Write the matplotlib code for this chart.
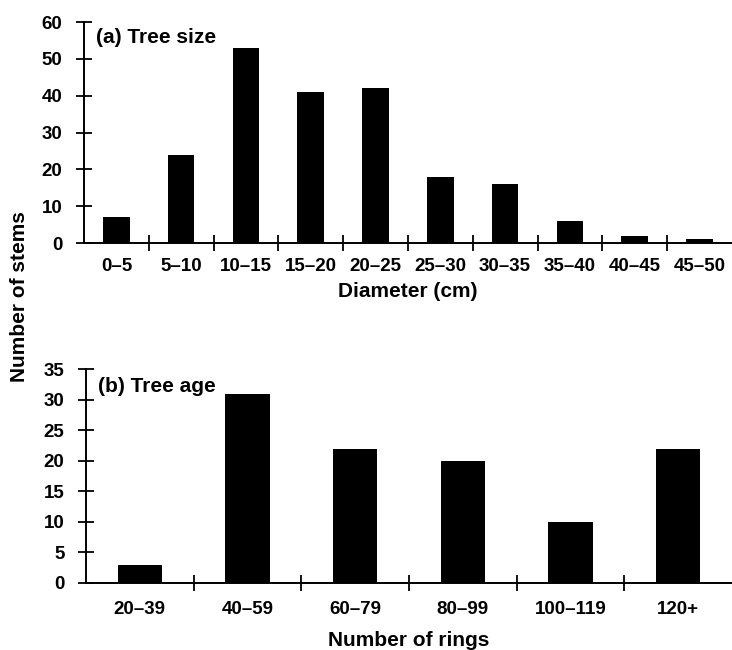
import matplotlib
matplotlib.use('Agg')
import matplotlib.pyplot as plt
import numpy as np

plt.rcParams['font.family'] = ['Liberation Sans', 'DejaVu Sans']
plt.rcParams['font.weight'] = 'bold'

# (a) tamaño de árbol
size_classes = ['0\u20135', '5\u201310', '10\u201315', '15\u201320', '20\u201325',
                '25\u201330', '30\u201335', '35\u201340', '40\u201345', '45\u201350']
size_counts = [7, 24, 53, 41, 42, 18, 16, 6, 2, 1]

# (b) edad de árbol
age_classes = ['20\u201339', '40\u201359', '60\u201379', '80\u201399', '100\u2013119', '120+']
age_counts = [3, 31, 22, 20, 10, 22]

fig = plt.figure(figsize=(7.32, 6.5), dpi=100)
ax1 = fig.add_axes([0.1148, 0.626, 0.885, 0.340])
ax2 = fig.add_axes([0.1175, 0.1031, 0.8825, 0.329])


def style(ax, cats, vals, ymax, ystep, xlabel, title, xpad, lpad, ty):
    n = len(cats)
    x = np.arange(n)
    ax.bar(x, vals, width=0.41, color='black')
    ax.set_xlim(-0.5, n - 0.5)
    ax.set_ylim(0, ymax)
    ax.set_yticks(np.arange(0, ymax + 1, ystep))
    ax.set_xticks(np.arange(0.5, n - 0.5, 1))
    ax.set_xticklabels([])
    ax.set_xticks(x, minor=True)
    ax.set_xticklabels(cats, minor=True)
    ax.tick_params(axis='x', which='minor', length=0, pad=xpad, labelsize=13.5)
    ax.tick_params(axis='x', which='major', direction='inout', length=11, width=1.3)
    ax.tick_params(axis='y', direction='inout', length=11, width=1.3, pad=10, labelsize=13.5)
    for s in ['top', 'right']:
        ax.spines[s].set_visible(False)
    for s in ['left', 'bottom']:
        ax.spines[s].set_linewidth(1.4)
    ax.set_xlabel(xlabel, fontsize=15, fontweight='bold', labelpad=lpad)
    ax.text(0.018, ty, title, transform=ax.transAxes, fontsize=15,
            fontweight='bold', va='top', ha='left')


style(ax1, size_classes, size_counts, 60, 10, 'Diameter (cm)', '(a) Tree size', 11, 5, 0.975)
style(ax2, age_classes, age_counts, 35, 5, 'Number of rings', '(b) Tree age', 13, 9, 0.965)

fig.text(0.027, 0.543, 'Number of stems', rotation=90, fontsize=15,
         fontweight='bold', va='center', ha='center')

fig.savefig('out.png', dpi=100)
